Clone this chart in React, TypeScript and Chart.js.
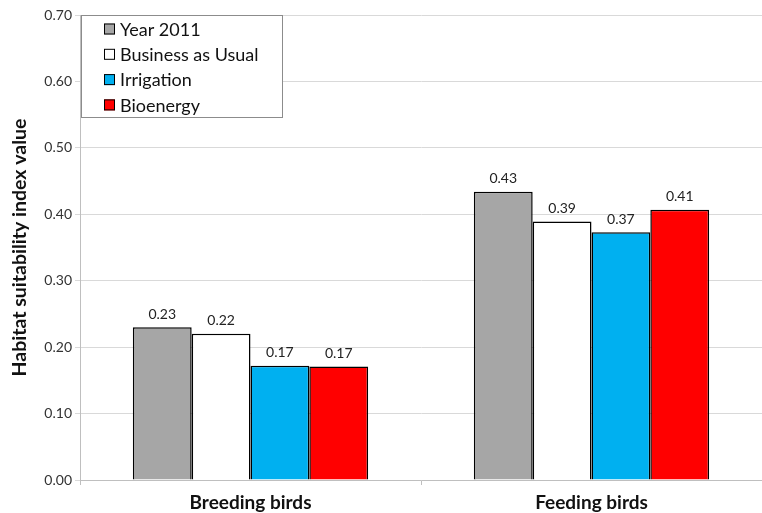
import React, { useEffect, useRef } from "react";
import { Chart, registerables } from "chart.js";

Chart.register(...registerables);

const categories = ["Breeding birds", "Feeding birds"];
const seriesNames = ["Year 2011", "Business as Usual", "Irrigation", "Bioenergy"];
const year2011 = [0.23, 0.434];
const businessAsUsual = [0.22, 0.389];
const irrigation = [0.172, 0.373];
const bioenergy = [0.171, 0.407];
const seriesColors = ["#a6a6a6", "#ffffff", "#00b0f0", "#ff0000"];
const yTicks = [0, 0.1, 0.2, 0.3, 0.4, 0.5, 0.6, 0.7];

const FONT = "Lato, 'Open Sans', sans-serif";

const valueLabels = {
  id: "valueLabels",
  afterDatasetsDraw(chart: any) {
    const ctx = chart.ctx;
    ctx.save();
    ctx.font = `14px ${FONT}`;
    ctx.fillStyle = "#222";
    ctx.textAlign = "center";
    ctx.textBaseline = "bottom";
    chart.data.datasets.forEach((ds: any, i: number) => {
      const meta = chart.getDatasetMeta(i);
      meta.data.forEach((bar: any, j: number) => {
        ctx.fillText(Number(ds.data[j]).toFixed(2), bar.x, bar.y - 6);
      });
    });
    ctx.restore();
  },
};

const boxLegend = {
  id: "boxLegend",
  afterDraw(chart: any) {
    const ctx = chart.ctx;
    const a = chart.chartArea;
    const x0 = a.left + 1;
    const y0 = a.top;
    const w = 201;
    const h = 102;
    ctx.save();
    ctx.fillStyle = "#ffffff";
    ctx.fillRect(x0, y0, w, h);
    ctx.strokeStyle = "#8c8c8c";
    ctx.lineWidth = 1;
    ctx.strokeRect(x0 + 0.5, y0 + 0.5, w, h);
    ctx.font = `18px ${FONT}`;
    ctx.textBaseline = "middle";
    ctx.textAlign = "left";
    chart.data.datasets.forEach((ds: any, i: number) => {
      const cy = y0 + 14 + i * 25.3;
      ctx.fillStyle = ds.backgroundColor;
      ctx.fillRect(x0 + 23, cy - 5.5, 11, 11);
      ctx.strokeStyle = "#000";
      ctx.lineWidth = 1;
      ctx.strokeRect(x0 + 23.5, cy - 5, 10, 10);
      ctx.fillStyle = "#111";
      ctx.fillText(ds.label, x0 + 39, cy + 1);
    });
    ctx.restore();
  },
};

export default function App() {
  const ref = useRef<HTMLCanvasElement | null>(null);
  useEffect(() => {
    if (!ref.current) return;
    const seriesData = [year2011, businessAsUsual, irrigation, bioenergy];
    const chart = new Chart(ref.current, {
      type: "bar",
      data: {
        labels: categories,
        datasets: seriesNames.map((name, i) => ({
          label: name,
          data: seriesData[i],
          backgroundColor: seriesColors[i],
          borderColor: "#000000",
          borderWidth: 1.5,
          borderSkipped: "bottom",
          barPercentage: 1,
          categoryPercentage: 0.69,
        })),
      },
      options: {
        animation: false,
        responsive: true,
        maintainAspectRatio: false,
        layout: { padding: { top: 15, right: 0, left: 0, bottom: 0 } },
        plugins: {
          legend: { display: false },
          tooltip: { enabled: false },
        },
        scales: {
          x: {
            offset: true,
            grid: {
              offset: true,
              drawOnChartArea: false,
              drawTicks: true,
              tickLength: 5,
              color: "#bfbfbf",
            },
            border: { color: "#bfbfbf" },
            ticks: {
              color: "#111",
              font: { family: FONT, size: 19, weight: "bold" },
              padding: 6,
            },
            afterFit(scale: any) {
              scale.height = 33;
            },
          },
          y: {
            min: 0,
            max: 0.7,
            afterBuildTicks(scale: any) {
              scale.ticks = yTicks.map((v) => ({ value: v }));
            },
            grid: {
              color: "#d9d9d9",
              tickLength: 5,
            },
            border: { color: "#bfbfbf" },
            ticks: {
              color: "#333",
              font: { family: FONT, size: 14 },
              padding: 3,
              callback: (v: any) => Number(v).toFixed(2),
            },
            title: {
              display: true,
              text: "Habitat suitability index value",
              color: "#111",
              font: { family: FONT, size: 19.5, weight: "bold" },
              padding: { top: 8, bottom: 0 },
            },
            afterFit(scale: any) {
              scale.width = 80;
            },
          },
        },
      },
      plugins: [valueLabels, boxLegend],
    });
    return () => chart.destroy();
  }, []);
  return (
    <div style={{ position: "fixed", left: 0, top: 0, width: 762, height: 513, background: "#fff" }}>
      <canvas ref={ref} />
    </div>
  );
}
